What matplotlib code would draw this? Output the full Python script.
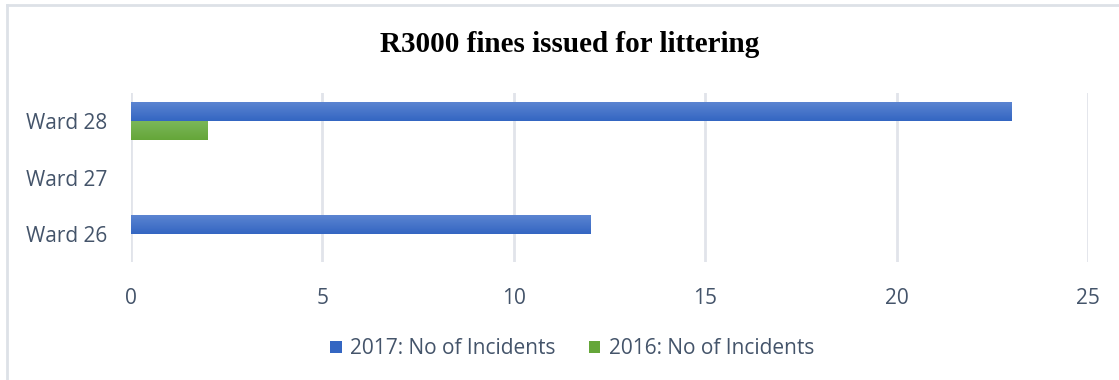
import numpy as np
import matplotlib.pyplot as plt
from matplotlib.colors import LinearSegmentedColormap

# wards and fines issued per year
wards = ['Ward 26', 'Ward 27', 'Ward 28']
fines_2017 = [12, 0, 23]
fines_2016 = [0, 0, 2]
series = ['2017: No of Incidents', '2016: No of Incidents']

txt_color = '#44546A'
grid_color = '#E1E4EA'
blue = ('#5D86D2', '#3466C2')
green = ('#7CB85B', '#65A639')

plt.rcParams['font.family'] = ['Open Sans', 'DejaVu Sans']

fig = plt.figure(figsize=(11.19, 3.80), dpi=100)
ax = fig.add_axes([131 / 1119, 118 / 380, 957 / 1119, 169 / 380])

y = np.arange(len(wards))
h = 0.34
b17 = ax.barh(y + h / 2, fines_2017, height=h, color=blue[1], label=series[0], zorder=2)
b16 = ax.barh(y - h / 2, fines_2016, height=h, color=green[1], label=series[1], zorder=2)

# top-to-bottom shading on each bar
grad = np.linspace(0, 1, 64).reshape(-1, 1)
for bars, cols in ((b17, blue), (b16, green)):
    cmap = LinearSegmentedColormap.from_list('shade', [cols[0], cols[1]])
    for p in bars:
        if p.get_width() <= 0:
            continue
        x0, y0 = p.get_x(), p.get_y()
        im = ax.imshow(grad, cmap=cmap, aspect='auto', origin='upper',
                       extent=(x0, x0 + p.get_width(), y0, y0 + p.get_height()),
                       zorder=3)
        im.set_clip_path(p)

ax.set_xlim(0, 25)
ax.set_ylim(-0.5, 2.5)
ax.set_xticks(np.arange(0, 26, 5))
ax.set_yticks(y)
ax.set_yticklabels(wards)
ax.xaxis.grid(True, color=grid_color, linewidth=2)
ax.set_axisbelow(True)
for s in ax.spines.values():
    s.set_visible(False)
ax.tick_params(length=0, labelsize=15, labelcolor=txt_color)
ax.tick_params(axis='x', pad=19)
ax.tick_params(axis='y', pad=17)

fig.text(570 / 1119, 1 - 44 / 380, 'R3000 fines issued for littering',
         ha='center', va='center', fontsize=21, fontweight='bold',
         family='Liberation Serif', color='black')

leg = fig.legend(handles=[b17, b16], labels=series, loc='center',
                 bbox_to_anchor=(572 / 1119, 1 - 349 / 380), ncol=2,
                 frameon=False, fontsize=15, handlelength=0.55, handleheight=0.55,
                 handletextpad=0.4, columnspacing=1.6)
for t in leg.get_texts():
    t.set_color(txt_color)

# open frame along the top and left edges
fig.add_artist(plt.Line2D([7 / 1119, 1], [1 - 5 / 380, 1 - 5 / 380],
                          transform=fig.transFigure, color='#DDE1E7', linewidth=2))
fig.add_artist(plt.Line2D([7 / 1119, 7 / 1119], [0, 1 - 5 / 380],
                          transform=fig.transFigure, color='#DDE1E7', linewidth=2))

fig.savefig('out.png', dpi=100)
